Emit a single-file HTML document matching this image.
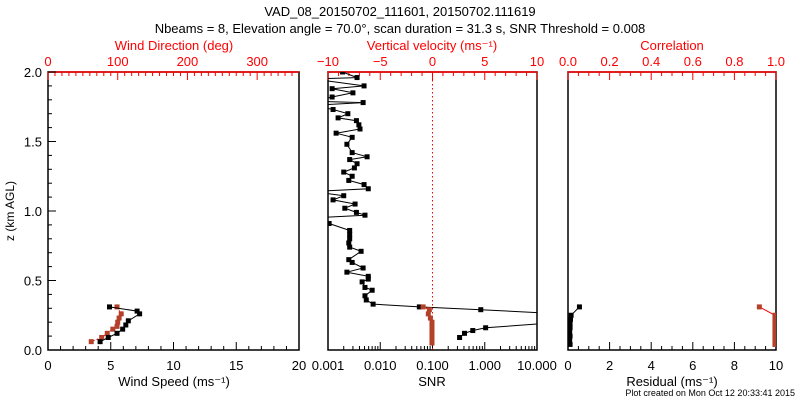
<!DOCTYPE html>
<html><head><meta charset="utf-8"><style>
html,body{margin:0;padding:0;background:#fff;}
svg{display:block;font-family:"Liberation Sans",sans-serif;}
</style></head><body>
<svg id="chart" width="800" height="400" viewBox="0 0 800 400" xmlns="http://www.w3.org/2000/svg">
<text x="400" y="16" text-anchor="middle" font-size="13">VAD_08_20150702_111601, 20150702.111619</text>
<text x="400" y="33" text-anchor="middle" font-size="13">Nbeams = 8, Elevation angle = 70.0°, scan duration = 31.3 s, SNR Threshold = 0.008</text>
<text transform="translate(14,211) rotate(-90)" text-anchor="middle" font-size="12">z (km AGL)</text>
<text x="795" y="396" text-anchor="end" font-size="9">Plot created on Mon Oct 12 20:33:41 2015</text>
<g id="g"></g>
</svg>
<script>
// ---- data ----
const windHeights = [0.31,0.28,0.26,0.21,0.18,0.15,0.12,0.09,0.06];
const windSpeed = [4.9,7.1,7.3,6.4,6.2,5.95,5.5,4.8,4.15];
const dirHeights = [0.31,0.26,0.23,0.20,0.17,0.15,0.12,0.09,0.06];
const windDir = [99,105,102,100,99,93,85,77,62];
const snrHeights = [2.0,1.96,1.95,1.90,1.88,1.85,1.82,1.79,1.78,1.76,1.73,1.70,1.67,1.65,1.62,1.59,1.56,1.53,1.48,1.42,1.39,1.37,1.34,1.31,1.28,1.25,1.22,1.19,1.16,1.14,1.11,1.08,1.05,1.02,0.99,0.97,0.95,0.91,0.86,0.83,0.80,0.77,0.74,0.71,0.65,0.63,0.59,0.56,0.53,0.51,0.49,0.45,0.43,0.39,0.36,0.33,0.31,0.29,0.26,0.20,0.16,0.14,0.12,0.09,0.06];
const snrValues = [0.0019,0.0036,0.0005,0.0049,0.0012,0.0030,0.0012,0.0005,0.0047,0.0005,0.00125,0.0024,0.00156,0.0035,0.0039,0.0041,0.00143,0.0029,0.0023,0.0029,0.0056,0.0026,0.0036,0.0032,0.0020,0.0029,0.0025,0.0049,0.0059,0.0005,0.0020,0.00125,0.0033,0.0021,0.0035,0.0051,0.0005,0.00105,0.0026,0.0026,0.0026,0.0025,0.0026,0.0043,0.0025,0.0029,0.0047,0.0023,0.0059,0.0059,0.0045,0.0051,0.0070,0.0051,0.0054,0.0073,0.056,0.84,30,30,1.04,0.59,0.41,0.33];
const velHeights = [0.31,0.29,0.26,0.23,0.20,0.17,0.14,0.11,0.08,0.05];
const velValues = [-0.9,-0.3,-0.4,-0.2,-0.05,-0.05,-0.05,-0.05,-0.05,-0.05];
const resHeights = [0.31,0.25,0.22,0.19,0.16,0.13,0.10,0.07,0.04];
const residual = [0.55,0.15,0.12,0.1,0.1,0.08,0.1,0.08,0.1];
const corrHeights = [0.31,0.25,0.22,0.19,0.16,0.13,0.10,0.07,0.04];
const correlation = [0.92,0.995,0.995,0.995,0.995,0.995,0.995,0.995,0.995];
const zTicks = ["0.0","0.5","1.0","1.5","2.0"];
const speedTicks = ["0","5","10","15","20"];
const dirTicks = ["0","100","200","300"];
const velTicks = ["−10","−5","0","5","10"];
const snrTicks = ["0.001","0.010","0.100","1.000","10.000"];
const resTicks = ["0","2","4","6","8","10"];
const corrTicks = ["0.0","0.2","0.4","0.6","0.8","1.0"];

const NS="http://www.w3.org/2000/svg";
const G=document.getElementById('g');
const Y0=350,Y1=72;
const yS=h=>Y0-(h/2)*(Y0-Y1);
function el(t,a,p){const e=document.createElementNS(NS,t);for(const k in a)e.setAttribute(k,a[k]);(p||G).appendChild(e);return e;}
function lin(a,b,x0,x1){return v=>x0+(v-a)/(b-a)*(x1-x0);}
const RED="#ff0000",BRN="#b5402a";

// clip paths
const defs=el('defs',{});
[[48,299,'cl'],[328,537,'cm'],[568,776,'cr']].forEach(([a,b,id])=>{const c=el('clipPath',{id:id},defs);el('rect',{x:a,y:Y1,width:b-a,height:Y0-Y1},c);});

function panel(x0,x1,name){
  const bx=el('rect',{x:x0,y:Y1,width:x1-x0,height:Y0-Y1,fill:'none',stroke:'#000','stroke-width':1.5});
  
  
  const tl=el('line',{x1:x0,x2:x1,y1:Y1,y2:Y1,stroke:RED,'stroke-width':1.5});
  
  
}
function ticks(pos,y,len,color){el('line',{x1:pos,x2:pos,y1:y,y2:y+len,stroke:color,'stroke-width':1});}
function label(x,y,t,color,size,name,anchor){const e=el('text',{x:x,y:y,'text-anchor':anchor||'middle','font-size':size||12,fill:color||'#000'});e.textContent=t;
  
  
  return e;}
function series(xs,ys,xf,clip,color,lineColor,dash,name){
  let d='';xs.forEach((v,i)=>{d+=(i?'L':'M')+xf(v).toFixed(1)+','+yS(ys[i]).toFixed(1);});
  const p=el('path',{d:d,fill:'none',stroke:lineColor,'stroke-width':1,'clip-path':'url(#'+clip+')'});
  if(dash)p.setAttribute('stroke-dasharray',dash);
  
  
  xs.forEach((v,i)=>{const c=el('rect',{x:xf(v)-2.5,y:yS(ys[i])-2.5,width:5,height:5,fill:color,'clip-path':'url(#'+clip+')'});
    
    });
}

// ---- left panel ----
const xSp=lin(0,20,48,299), xDir=lin(0,360,48,299);
panel(48,299,'wind-panel');
for(let v=0;v<=20;v++)ticks(xSp(v),Y0,v%5?-4:-8,'#000');
speedTicks.forEach((t,i)=>label(xSp(i*5),370,t,'#000',13,'speed-tick-label'));
for(let v=0;v<=350;v+=10)ticks(xDir(v),Y1,v%100?4:8,RED);
dirTicks.forEach((t,i)=>label(xDir(i*100),66,t,RED,13,'direction-tick-label'));
for(let h=0;h<=2.001;h+=0.1){const y=yS(h);const m=Math.round(h*10)%5===0;el('line',{x1:48,x2:48+(m?8:4),y1:y,y2:y,stroke:'#000'});}
zTicks.forEach((t,i)=>label(42,yS(i*0.5)+5,t,'#000',13,'z-tick-label','end'));
label(174,50,'Wind Direction (deg)',RED,13,'wind-direction-axis-title');
label(174,386,'Wind Speed (ms⁻¹)','#000',13,'wind-speed-axis-title');
series(windDir,dirHeights,xDir,'cl',BRN,RED,'2,2','wind-direction');
series(windSpeed,windHeights,xSp,'cl','#000','#000',null,'wind-speed');

// ---- middle panel ----
const xSnr=v=>328+(Math.log10(v)+3)/4*(537-328);
const xVel=lin(-10,10,328,537);
panel(328,537,'snr-panel');
for(let d=-3;d<1;d++)for(let k=1;k<10;k++)ticks(xSnr(k*Math.pow(10,d)),Y0,k===1?-8:-4,'#000');
ticks(537,Y0,-8,'#000');
snrTicks.forEach((t,i)=>label(xSnr(Math.pow(10,i-3)),370,t,'#000',13,'snr-tick-label'));
for(let v=-10;v<=10;v++)ticks(xVel(v),Y1,v%5?4:8,RED);
velTicks.forEach((t,i)=>label(xVel(-10+i*5),66,t,RED,13,'velocity-tick-label'));
const zl=el('line',{x1:xVel(0),x2:xVel(0),y1:Y1,y2:Y0,stroke:RED,'stroke-dasharray':'1.5,2.5'});


label(432,50,'Vertical velocity (ms⁻¹)',RED,13,'vertical-velocity-axis-title');
label(432,386,'SNR','#000',13,'snr-axis-title');
series(snrValues,snrHeights,xSnr,'cm','#000','#000',null,'snr');
series(velValues,velHeights,xVel,'cm',BRN,RED,'1.5,1.5','vertical-velocity');

// ---- right panel ----
const xRes=lin(0,10,568,776), xCor=lin(0,1,568,776);
panel(568,776,'residual-panel');
for(let v=0;v<=20;v++)ticks(xRes(v/2),Y0,v%4?-4:-8,'#000');
resTicks.forEach((t,i)=>label(xRes(i*2),370,t,'#000',13,'residual-tick-label'));
for(let v=0;v<=20;v++)ticks(xCor(v/20),Y1,v%4?4:8,RED);
corrTicks.forEach((t,i)=>label(xCor(i*0.2),66,t,RED,13,'correlation-tick-label'));
label(672,50,'Correlation',RED,13,'correlation-axis-title');
label(672,386,'Residual (ms⁻¹)','#000',13,'residual-axis-title');
series(correlation,corrHeights,xCor,'cr',BRN,RED,null,'correlation');
series(residual,resHeights,xRes,'cr','#000','#000',null,'residual');
</script>
</body></html>
